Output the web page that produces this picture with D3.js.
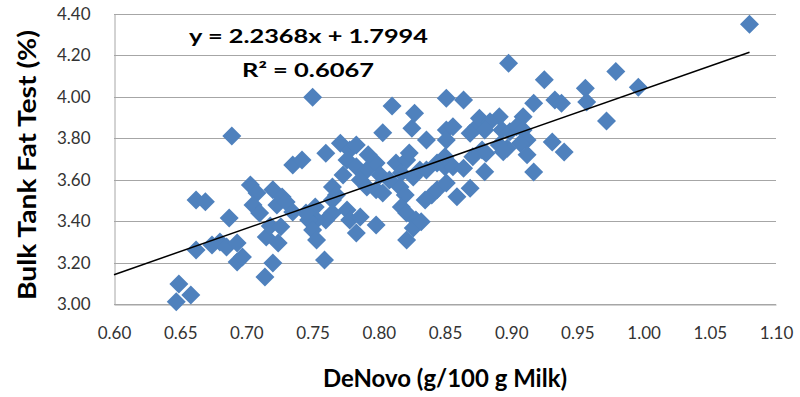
<!DOCTYPE html>
<html>
<head>
<meta charset="utf-8">
<script src="https://cdn.jsdelivr.net/npm/d3@7"></script>
<style>
    html, body { margin: 0; padding: 0; background: #fff; }
    svg { display: block; }
    text { font-family: Lato, "Liberation Sans", Arial, sans-serif; }
</style>
</head>
<body>
<div id="chart"></div>
<script>
// DeNovo fatty acids (g/100 g milk) vs bulk tank fat test (%)
const denovo = [
    0.647, 0.649, 0.658, 0.662, 0.669, 0.662, 0.674, 0.680, 0.685, 0.693,
    0.693, 0.697, 0.687, 0.689, 0.703, 0.708, 0.705, 0.710, 0.715, 0.718,
    0.724, 0.720, 0.714, 0.726, 0.735, 0.742, 0.720, 0.727, 0.723, 0.730,
    0.735, 0.750, 0.760, 0.771, 0.778, 0.783, 0.776, 0.783, 0.791, 0.798,
    0.786, 0.791, 0.798, 0.803, 0.801, 0.765, 0.768, 0.765, 0.765, 0.760,
    0.753, 0.752, 0.747, 0.745, 0.750, 0.753, 0.759, 0.776, 0.778, 0.783,
    0.786, 0.798, 0.810, 0.803, 0.825, 0.827, 0.813, 0.821, 0.823, 0.817,
    0.826, 0.816, 0.820, 0.817, 0.821, 0.828, 0.826, 0.821, 0.831, 0.792,
    0.773, 0.808, 0.836, 0.836, 0.840, 0.844, 0.851, 0.844, 0.850, 0.832,
    0.835, 0.851, 0.864, 0.851, 0.856, 0.851, 0.874, 0.876, 0.891, 0.884,
    0.880, 0.869, 0.893, 0.899, 0.909, 0.904, 0.909, 0.912, 0.907, 0.897,
    0.891, 0.878, 0.881, 0.871, 0.850, 0.856, 0.864, 0.880, 0.869, 0.859,
    0.894, 0.912, 0.898, 0.917, 0.925, 0.933, 0.938, 0.931, 0.940, 0.917,
    0.956, 0.957, 0.972, 0.979, 0.996, 1.080
];
const fatTest = [
    3.011, 3.097, 3.043, 3.502, 3.494, 3.261, 3.285, 3.299, 3.275, 3.295,
    3.203, 3.227, 3.415, 3.811, 3.575, 3.536, 3.478, 3.439, 3.324, 3.377,
    3.295, 3.198, 3.130, 3.373, 3.671, 3.695, 3.551, 3.517, 3.478, 3.493,
    3.444, 3.998, 3.728, 3.776, 3.744, 3.768, 3.695, 3.663, 3.647, 3.681,
    3.599, 3.565, 3.551, 3.536, 3.623, 3.565, 3.526, 3.502, 3.439, 3.406,
    3.406, 3.468, 3.406, 3.439, 3.357, 3.309, 3.212, 3.454, 3.406, 3.343,
    3.420, 3.381, 3.956, 3.827, 3.848, 3.921, 3.681, 3.695, 3.729, 3.633,
    3.613, 3.565, 3.526, 3.468, 3.439, 3.406, 3.367, 3.309, 3.647, 3.720,
    3.623, 3.599, 3.792, 3.647, 3.526, 3.551, 3.584, 3.681, 3.662, 3.397,
    3.502, 3.993, 3.985, 3.840, 3.856, 3.792, 3.856, 3.897, 3.904, 3.880,
    3.840, 3.824, 3.840, 3.832, 3.904, 3.856, 3.840, 3.792, 3.776, 3.752,
    3.768, 3.744, 3.728, 3.711, 3.711, 3.663, 3.655, 3.639, 3.559, 3.518,
    3.735, 3.720, 4.162, 3.969, 4.082, 3.985, 3.969, 3.782, 3.734, 3.637,
    4.042, 3.975, 3.884, 4.122, 4.046, 4.351
];

// Axis ticks
const xTicks = [0.60, 0.65, 0.70, 0.75, 0.80, 0.85, 0.90, 0.95, 1.00, 1.05, 1.10];
const yTicks = [3.00, 3.20, 3.40, 3.60, 3.80, 4.00, 4.20, 4.40];

// Linear trendline
const slope = 2.2368;
const intercept = 1.7994;
const rSquared = 0.6067;
const trendRange = [0.60, 1.08];

const width = 800;
const height = 397;
const plot = {left: 114, right: 776, top: 14, bottom: 304};

const svg = d3.select('#chart')
    .append('svg')
    .attr('width', width)
    .attr('height', height);

const x = d3.scaleLinear()
    .domain([0.60, 1.10])
    .range([plot.left, plot.right]);

const y = d3.scaleLinear()
    .domain([3.00, 4.40])
    .range([plot.bottom, plot.top]);

// Gridlines
svg.append('g')
    .selectAll('line')
    .data(yTicks)
    .join('line')
    .attr('x1', plot.left)
    .attr('x2', plot.right)
    .attr('y1', d => Math.round(y(d)) + 0.5)
    .attr('y2', d => Math.round(y(d)) + 0.5)
    .attr('stroke', '#a6a6a6')
    .attr('stroke-width', 1);

// Axes
const xAxis = svg.append('g')
    .attr('transform', `translate(0,${Math.round(plot.bottom) + 0.5})`)
    .call(d3.axisBottom(x).tickValues(xTicks).tickSize(0).tickPadding(22).tickFormat(d3.format('.2f')));

const yAxis = svg.append('g')
    .attr('transform', `translate(${plot.left + 0.5},0)`)
    .call(d3.axisLeft(y).tickValues(yTicks).tickSize(0).tickPadding(24).tickFormat(d3.format('.2f')));

[xAxis, yAxis].forEach(axis => {
    axis.select('.domain').attr('stroke', '#a6a6a6');
    axis.selectAll('text')
        .attr('fill', '#333')
        .style('font-size', '17px');
});

// Points
const points = denovo.map((d, i) => ({x: d, y: fatTest[i]}));
const r = 9.5;

svg.append('g')
    .selectAll('path')
    .data(points)
    .join('path')
    .attr('transform', d => `translate(${x(d.x)},${y(d.y)})`)
    .attr('d', `M0,${-r}L${r},0L0,${r}L${-r},0Z`)
    .attr('fill', '#4f81bd');

// Trendline
svg.append('line')
    .attr('x1', x(trendRange[0]))
    .attr('y1', y(slope * trendRange[0] + intercept))
    .attr('x2', x(trendRange[1]))
    .attr('y2', y(slope * trendRange[1] + intercept))
    .attr('stroke', '#000')
    .attr('stroke-width', 1.5);

// Equation labels
svg.append('text')
    .attr('x', 189)
    .attr('y', 43)
    .attr('font-weight', 'bold')
    .attr('font-size', 19)
    .attr('textLength', 239)
    .attr('lengthAdjust', 'spacingAndGlyphs')
    .text(`y = ${slope}x + ${intercept}`);

svg.append('text')
    .attr('x', 242)
    .attr('y', 77)
    .attr('font-weight', 'bold')
    .attr('font-size', 19)
    .attr('textLength', 132)
    .attr('lengthAdjust', 'spacingAndGlyphs')
    .text(`R² = ${rSquared}`);

// Axis titles
svg.append('text')
    .attr('x', (plot.left + plot.right) / 2)
    .attr('y', 387)
    .attr('text-anchor', 'middle')
    .attr('font-weight', 'bold')
    .attr('font-size', 24)
    .attr('textLength', 244)
    .attr('lengthAdjust', 'spacingAndGlyphs')
    .text('DeNovo (g/100 g Milk)');

svg.append('text')
    .attr('transform', `translate(36,${(plot.top + plot.bottom) / 2 + 6}) rotate(-90)`)
    .attr('text-anchor', 'middle')
    .attr('font-weight', 'bold')
    .attr('font-size', 24)
    .attr('textLength', 270)
    .attr('lengthAdjust', 'spacingAndGlyphs')
    .text('Bulk Tank Fat Test (%)');
</script>
</body>
</html>
